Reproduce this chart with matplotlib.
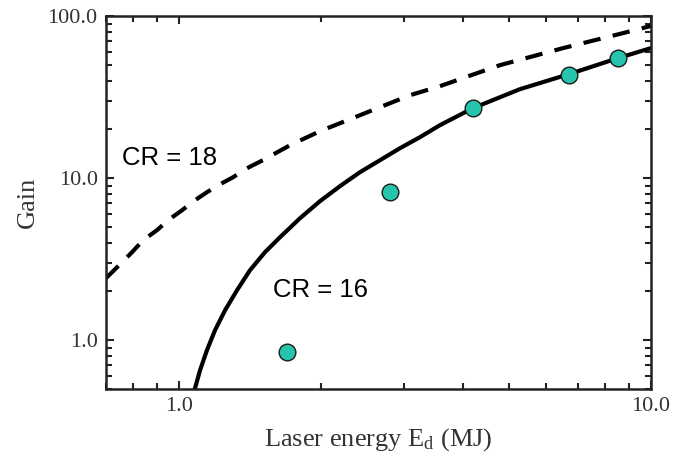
import matplotlib as mpl

mpl.use("Agg")
import matplotlib.pyplot as plt
from matplotlib.ticker import FixedLocator, FuncFormatter, LogLocator, NullFormatter

# measured points (laser energy MJ, gain)
pts_energy = [1.69, 2.80, 4.20, 6.70, 8.51]
pts_gain = [0.84, 8.2, 27.0, 43.5, 55.0]

# CR = 16 curve
cr16_energy = [1.081, 1.108, 1.146, 1.192, 1.252, 1.327, 1.414, 1.521, 1.637,
               1.805, 1.989, 2.193, 2.418, 2.667, 2.940, 3.240, 3.573, 4.196,
               5.278, 6.703, 8.513, 10.0]
cr16_gain = [0.505, 0.653, 0.868, 1.153, 1.532, 2.035, 2.705, 3.493, 4.323,
             5.664, 7.211, 8.925, 10.89, 12.92, 15.32, 17.91, 21.25, 27.05,
             35.43, 43.85, 55.05, 63.5]

# CR = 18 curve
cr18_energy = [0.700, 0.739, 0.795, 0.839, 0.898, 0.948, 1.015, 1.081, 1.146,
               1.233, 1.302, 1.394, 1.506, 1.719, 1.989, 2.304, 2.667, 3.087,
               3.573, 4.786, 6.510, 8.723, 10.0]
cr18_gain = [2.414, 2.822, 3.493, 4.142, 4.776, 5.505, 6.346, 7.315, 8.197,
             9.314, 10.14, 11.53, 12.92, 15.98, 19.50, 23.13, 27.44, 32.53,
             36.98, 49.84, 63.47, 78.55, 87.0]

plt.rcParams["font.family"] = ["Liberation Serif", "DejaVu Serif"]
plt.rcParams["mathtext.fontset"] = "custom"
plt.rcParams["mathtext.rm"] = "Liberation Serif"
plt.rcParams["mathtext.it"] = "Liberation Serif:italic"

fig = plt.figure(figsize=(6.88, 4.62), dpi=100)
ax = fig.add_axes([0.154, 0.158, 0.792, 0.807])

ax.plot(cr16_energy, cr16_gain, color="black", lw=3.0, solid_joinstyle="round")
(dash_line,) = ax.plot(cr18_energy, cr18_gain, color="black", lw=3.0)
dash_line.set_dashes([4.2, 3.0])
ax.plot(pts_energy, pts_gain, "o", ms=12, mfc="#26c4ac", mec="#1a1a1a", mew=1.0,
        zorder=5)

ax.set_xscale("log")
ax.set_yscale("log")
ax.set_xlim(0.7, 10.0)
ax.set_ylim(0.5, 100.0)

ax.xaxis.set_major_locator(FixedLocator([1.0, 10.0]))
ax.yaxis.set_major_locator(FixedLocator([1.0, 10.0, 100.0]))
ax.xaxis.set_minor_locator(LogLocator(base=10, subs=range(2, 10)))
ax.yaxis.set_minor_locator(LogLocator(base=10, subs=range(2, 10)))
fmt = FuncFormatter(lambda v, _: f"{v:.1f}")
ax.xaxis.set_major_formatter(fmt)
ax.yaxis.set_major_formatter(fmt)
ax.xaxis.set_minor_formatter(NullFormatter())
ax.yaxis.set_minor_formatter(NullFormatter())

ax.tick_params(which="both", direction="in", top=True, right=True,
               width=1.5, colors="#222222", labelcolor="#333333", labelsize=16)
ax.tick_params(which="major", length=6, pad=6)
ax.tick_params(which="minor", length=4)
for s in ax.spines.values():
    s.set_linewidth(1.8)
    s.set_color("#222222")

ax.set_xlabel("Laser energy E$_\\mathrm{d}$ (MJ)", fontsize=19, color="#333333",
              labelpad=7)
ax.set_ylabel("Gain", fontsize=19, color="#333333", labelpad=6)

ax.text(0.757, 13.4, "CR = 18", fontsize=18.5, family=["Liberation Sans"],
        va="center", ha="left")
ax.text(1.58, 2.03, "CR = 16", fontsize=18.5, family=["Liberation Sans"],
        va="center", ha="left")

fig.savefig("out.png", dpi=100)
